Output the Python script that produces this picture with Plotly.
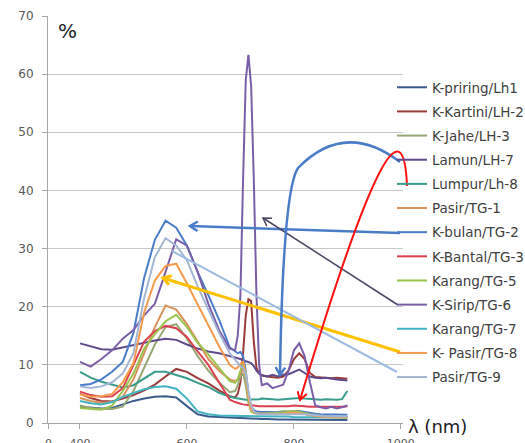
import math
import plotly.graph_objects as go

# ---------------- data ----------------
wavelength = [400, 420, 440, 460, 480, 500, 520, 540, 560, 580, 600, 620, 640, 660, 680,
              690, 695, 700, 705, 710, 715, 720, 725, 730, 735, 740,
              750, 760, 770, 780, 790, 800, 810, 820, 830, 840, 850, 860, 870, 880, 890, 900]

series_names = ["K-priring/Lh1", "K-Kartini/LH-2", "K-Jahe/LH-3", "Lamun/LH-7", "Lumpur/Lh-8",
                "Pasir/TG-1", "K-bulan/TG-2", "K-Bantal/TG-3", "Karang/TG-5", "K-Sirip/TG-6",
                "Karang/TG-7", "K- Pasir/TG-8", "Pasir/TG-9"]

k_priring_lh1 = [2.8, 2.6, 2.5, 2.6, 3.2, 3.8, 4.2, 4.5, 4.6, 4.4, 2.9, 1.5, 1.1, 1.0, 0.9,
                 0.9, 0.9, 0.8, 0.8, 0.8, 0.8, 0.8, 0.7, 0.7, 0.7, 0.7,
                 0.7, 0.6, 0.6, 0.6, 0.6, 0.5, 0.5, 0.5, 0.5, 0.5, 0.5, 0.5, 0.5, 0.5, 0.5, 0.5]
k_kartini_lh2 = [5.0, 4.3, 3.8, 3.7, 4.2, 4.8, 5.6, 6.6, 8.0, 9.3, 8.8, 7.7, 6.8, 5.6, 4.6,
                 4.4, 5.0, 7.0, 12.0, 18.5, 21.3, 21.0, 14.0, 9.5, 8.5, 8.2,
                 8.0, 7.9, 7.8, 8.0, 9.0, 11.0, 12.0, 11.0, 8.6, 7.9, 7.8, 7.8, 7.7, 7.8, 7.7, 7.6]
k_jahe_lh3 = [3.0, 2.6, 2.4, 2.4, 2.8, 5.5, 9.5, 13.5, 16.5, 17.0, 14.5, 11.5, 9.0, 7.0, 5.3,
              5.5, 6.5, 8.0, 8.5, 6.5, 3.5, 2.2, 1.9, 1.8, 1.8, 1.8,
              1.8, 1.8, 1.9, 2.0, 2.0, 2.1, 2.0, 1.8, 1.5, 1.3, 1.2, 1.1, 1.1, 1.0, 1.0, 1.0]
lamun_lh7 = [13.7, 13.2, 12.7, 12.6, 13.0, 13.5, 13.9, 14.2, 14.5, 14.3, 13.5, 12.8, 12.3, 12.0, 11.5,
             11.3, 11.2, 11.0, 10.8, 10.6, 10.5, 10.3, 9.8, 9.0, 8.5, 8.2,
             8.0, 8.3, 8.0, 8.3, 8.4, 8.8, 9.2, 8.6, 8.0, 7.8, 7.7, 7.8, 7.6, 7.5, 7.4, 7.3]
lumpur_lh8 = [8.8, 7.8, 7.1, 6.6, 6.1, 6.5, 7.6, 8.8, 8.8, 8.3, 7.7, 6.9, 6.2, 5.2, 4.5,
              4.3, 4.2, 4.1, 4.0, 4.0, 4.0, 4.0, 4.0, 4.1, 4.1, 4.2,
              4.2, 4.1, 4.0, 4.1, 4.2, 4.2, 4.3, 4.2, 4.1, 4.0, 4.0, 4.1, 4.0, 4.0, 4.1, 5.5]
pasir_tg1 = [4.3, 3.8, 3.5, 3.6, 4.5, 7.5, 12.0, 16.5, 20.2, 19.5, 17.0, 14.0, 11.0, 9.0, 7.5,
             7.2, 7.5, 8.5, 9.5, 8.0, 4.5, 2.5, 2.0, 1.8, 1.7, 1.7,
             1.7, 1.6, 1.6, 1.7, 1.8, 1.8, 1.7, 1.5, 1.3, 1.2, 1.1, 1.1, 1.0, 1.0, 1.0, 1.0]
k_bulan_tg2 = [6.5, 6.7, 7.5, 8.8, 10.5, 15.5, 25.0, 31.5, 34.8, 33.6, 30.5, 26.0, 22.0, 17.8, 13.0,
               12.3, 12.0, 12.2, 11.5, 9.0, 5.0, 2.8, 2.2, 2.0, 1.9, 1.9,
               1.9, 1.8, 1.8, 1.8, 1.9, 1.9, 2.0, 1.9, 1.7, 1.6, 1.5, 1.5, 1.5, 1.4, 1.4, 1.4]
k_bantal_tg3 = [5.4, 4.8, 4.5, 4.6, 6.0, 10.0, 14.0, 15.8, 16.7, 16.3, 14.8, 12.3, 10.0, 7.0, 4.0,
                3.6, 3.4, 3.3, 3.2, 3.1, 3.0, 3.0, 3.0, 2.9, 2.9, 2.9,
                2.9, 2.9, 2.8, 2.9, 2.9, 3.0, 3.0, 2.9, 2.8, 2.8, 2.8, 2.7, 2.8, 2.7, 2.8, 2.9]
karang_tg5 = [2.6, 2.4, 2.3, 3.0, 5.5, 8.5, 12.8, 15.3, 17.5, 18.6, 16.5, 13.8, 11.8, 9.5, 7.2,
              6.9, 7.5, 9.0, 10.3, 8.5, 4.0, 2.0, 1.7, 1.6, 1.6, 1.6,
              1.6, 1.6, 1.7, 1.8, 1.9, 2.0, 1.9, 1.7, 1.4, 1.2, 1.1, 1.0, 1.0, 1.0, 0.9, 0.9]
k_sirip_tg6 = [10.5, 9.7, 11.0, 12.5, 14.5, 16.0, 18.5, 20.5, 26.0, 31.6, 30.5, 26.0, 20.5, 16.0, 12.8,
               12.5, 15.0, 22.0, 42.0, 59.0, 63.3, 58.0, 42.0, 22.0, 10.0, 6.5,
               6.8, 6.0, 6.3, 6.6, 9.0, 12.5, 13.7, 11.5, 7.0, 3.0, 2.7, 2.5, 2.8, 2.5, 2.7, 3.0]
karang_tg7 = [3.8, 3.4, 3.2, 3.6, 4.5, 5.2, 5.8, 6.2, 6.3, 5.9, 4.2, 2.0, 1.5, 1.3, 1.2,
              1.2, 1.2, 1.2, 1.2, 1.2, 1.2, 1.2, 1.1, 1.1, 1.1, 1.1,
              1.1, 1.1, 1.1, 1.1, 1.1, 1.0, 1.0, 1.0, 1.0, 1.0, 1.0, 1.0, 1.0, 1.0, 1.0, 1.0]
k_pasir_tg8 = [4.9, 4.5, 4.6, 5.0, 7.0, 10.3, 19.0, 24.5, 27.0, 27.4, 24.0, 20.5, 16.8, 13.2, 10.0,
               9.3, 9.5, 10.2, 10.5, 8.5, 4.5, 2.3, 1.9, 1.7, 1.6, 1.6,
               1.6, 1.5, 1.5, 1.6, 1.7, 1.8, 1.7, 1.5, 1.3, 1.2, 1.1, 1.0, 1.0, 1.0, 1.0, 1.0]
pasir_tg9 = [6.3, 6.0, 6.3, 7.0, 8.5, 12.0, 21.5, 28.5, 31.8, 30.5, 28.0, 23.5, 19.5, 15.5, 12.0,
             10.8, 10.2, 9.8, 9.5, 8.5, 5.5, 3.0, 2.0, 1.7, 1.6, 1.5,
             1.5, 1.5, 1.5, 1.5, 1.6, 1.6, 1.6, 1.5, 1.4, 1.3, 1.2, 1.2, 1.1, 1.1, 1.1, 1.1]

series_values = [k_priring_lh1, k_kartini_lh2, k_jahe_lh3, lamun_lh7, lumpur_lh8, pasir_tg1,
                 k_bulan_tg2, k_bantal_tg3, karang_tg5, k_sirip_tg6, karang_tg7, k_pasir_tg8, pasir_tg9]

series_colors = ["#3b5b8c", "#9a3b3b", "#98a874", "#5f4b8b", "#3a9c8c", "#d8915a", "#4a7cc8",
                 "#d9414f", "#9bc34f", "#7a5fa8", "#42b3c1", "#f59b4e", "#a3b6d3"]

y_ticks = [0, 10, 20, 30, 40, 50, 60, 70]
x_tick_vals = [341, 400, 600, 800, 1000]
x_tick_text = ["0", "400", "600", "800", "1000"]

# ---------------- figure ----------------
W, H = 525, 443
L, R, T, B = 48, 122, 16, 20
PX0, PX1, PY0, PY1 = L, W - R, T, H - B


def fx(px):
    return (px - PX0) / (PX1 - PX0)


def fy(py):
    return (PY1 - py) / (PY1 - PY0)


fig = go.Figure()
for name, vals, col in zip(series_names, series_values, series_colors):
    fig.add_trace(go.Scatter(x=wavelength, y=vals, mode="lines", name=name, legendgroup=name,
                             line=dict(color=col, width=2)))

shapes = []
# white patch hiding gridlines behind legend
shapes.append(dict(type="rect", xref="paper", yref="paper", x0=fx(387), x1=fx(406),
                   y0=fy(392), y1=fy(78), fillcolor="white", line=dict(width=0), layer="between"))


def line_path(pts):
    s = "M %f,%f" % (fx(pts[0][0]), fy(pts[0][1]))
    for p in pts[1:]:
        s += " L %f,%f" % (fx(p[0]), fy(p[1]))
    return s


def chevron(tip, frm, color, width, arm=9, ang=32):
    ux, uy = tip[0] - frm[0], tip[1] - frm[1]
    n = math.hypot(ux, uy)
    ux, uy = ux / n, uy / n
    pts = []
    for s in (1, -1):
        a = math.radians(ang) * s
        rx = ux * math.cos(a) - uy * math.sin(a)
        ry = ux * math.sin(a) + uy * math.cos(a)
        pts.append((tip[0] - arm * rx, tip[1] - arm * ry))
    shapes.append(dict(type="path", xref="paper", yref="paper",
                       path=line_path([pts[0], tip, pts[1]]),
                       line=dict(color=color, width=width), layer="above"))


def straight_arrow(p0, p1, color, width, head=True):
    shapes.append(dict(type="path", xref="paper", yref="paper", path=line_path([p0, p1]),
                       line=dict(color=color, width=width), layer="above"))
    if head:
        chevron(p1, p0, color, width)


# connectors from legend
straight_arrow((400, 233), (190, 226), "#4a7cc8", 2.5)
straight_arrow((398, 305), (263, 218), "#4b4666", 1.5)
straight_arrow((400, 352), (163, 278), "#ffc000", 3)
straight_arrow((397, 372), (172, 251), "#9dbbe0", 2, head=False)

# blue arc (Lamun)
bp = "M %f,%f Q %f,%f %f,%f Q %f,%f %f,%f" % (
    fx(400), fy(162), fx(345), fy(120), fx(298), fy(168), fx(283), fy(190), fx(280), fy(375))
shapes.append(dict(type="path", xref="paper", yref="paper", path=bp,
                   line=dict(color="#4a7cc8", width=2.5), layer="above"))
chevron((280, 375), (281, 355), "#4a7cc8", 2.5)

# red arc (Lumpur)
rp = "M %f,%f C %f,%f %f,%f %f,%f" % (
    fx(407), fy(186), fx(404), fy(110), fx(375), fy(150), fx(300), fy(400))
shapes.append(dict(type="path", xref="paper", yref="paper", path=rp,
                   line=dict(color="#ff1010", width=2), layer="above"))
chevron((300, 400), (375, 150), "#ff1010", 2)

annotations = [
    dict(text="%", x=fx(67), y=fy(31), xref="paper", yref="paper", showarrow=False,
         xanchor="center", yanchor="middle",
         font=dict(family="DejaVu Sans", size=20, color="#222222")),
    dict(text="λ (nm)", x=fx(437), y=fy(426), xref="paper", yref="paper", showarrow=False,
         xanchor="center", yanchor="middle",
         font=dict(family="DejaVu Sans", size=18, color="#222222")),
]

fig.update_layout(
    width=W, height=H,
    margin=dict(l=L, r=R, t=T, b=B, autoexpand=False),
    paper_bgcolor="white", plot_bgcolor="white",
    showlegend=True,
    legend=dict(x=fx(392), xanchor="left", y=fy(72), yanchor="top", bgcolor="rgba(0,0,0,0)",
                font=dict(family="DejaVu Sans", size=13.5, color="#404040"),
                tracegroupgap=3.6, itemwidth=30, borderwidth=0),
    shapes=shapes,
    annotations=annotations,
    xaxis=dict(range=[340.2, 1004], tickvals=x_tick_vals, ticktext=x_tick_text,
               showgrid=False, zeroline=False, showline=True, linecolor="#a6a6a6", linewidth=1,
               ticks="outside", ticklen=5, tickcolor="#a6a6a6",
               tickfont=dict(family="DejaVu Sans", size=11, color="#595959"),
               ticklabelstandoff=5),
    yaxis=dict(range=[0, 70], tickvals=y_ticks, showgrid=True, gridcolor="#c8c8c8", gridwidth=1,
               zeroline=False, showline=True, linecolor="#a6a6a6", linewidth=1,
               ticks="outside", ticklen=5, tickcolor="#a6a6a6",
               tickfont=dict(family="DejaVu Sans", size=12, color="#595959"),
               ticklabelstandoff=6),
)

fig.write_html("out.html")
